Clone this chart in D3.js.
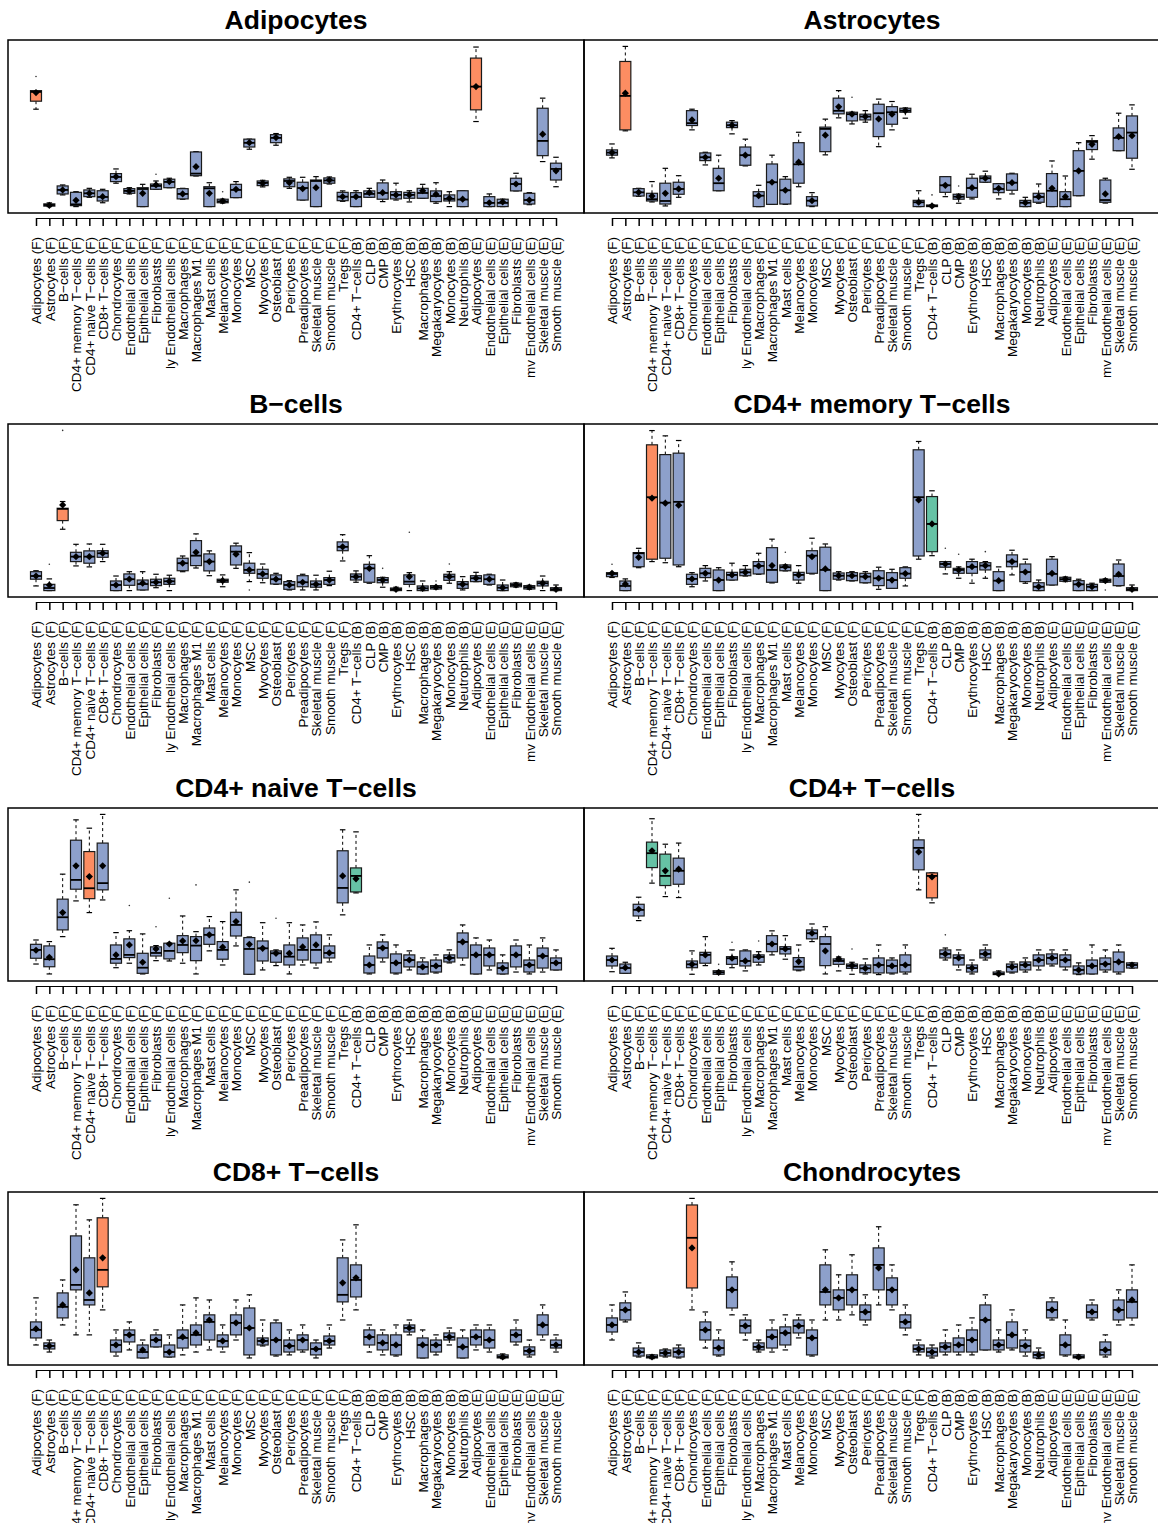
<!DOCTYPE html>
<html>
<head>
<meta charset="utf-8">
<script src="https://cdn.jsdelivr.net/npm/d3@7"></script>
<style>
  body { margin: 0; background: #fff; }
  text { font-family: "Liberation Sans", Arial, Helvetica, sans-serif; }
</style>
</head>
<body>
<svg id="chart"></svg>
<script>
// x categories (same for every panel)
const categories = [
  "Adipocytes (F)", "Astrocytes (F)", "B\u2212cells (F)", "CD4+ memory T\u2212cells (F)",
  "CD4+ naive T\u2212cells (F)", "CD8+ T\u2212cells (F)", "Chondrocytes (F)", "Endothelial cells (F)",
  "Epithelial cells (F)", "Fibroblasts (F)", "ly Endothelial cells (F)", "Macrophages (F)",
  "Macrophages M1 (F)", "Mast cells (F)", "Melanocytes (F)", "Monocytes (F)", "MSC (F)",
  "Myocytes (F)", "Osteoblast (F)", "Pericytes (F)", "Preadipocytes (F)", "Skeletal muscle (F)",
  "Smooth muscle (F)", "Tregs (F)", "CD4+ T\u2212cells (B)", "CLP (B)", "CMP (B)",
  "Erythrocytes (B)", "HSC (B)", "Macrophages (B)", "Megakaryocytes (B)", "Monocytes (B)",
  "Neutrophils (B)", "Adipocytes (E)", "Endothelial cells (E)", "Epithelial cells (E)",
  "Fibroblasts (E)", "mv Endothelial cells (E)", "Skeletal muscle (E)", "Smooth muscle (E)"
];

const panelTitles = ["Adipocytes", "Astrocytes", "B\u2212cells", "CD4+ memory T\u2212cells",
  "CD4+ naive T\u2212cells", "CD4+ T\u2212cells", "CD8+ T\u2212cells", "Chondrocytes"];

// each row: [lower whisker, q1, median, q3, upper whisker, mean] (relative score)
const adipocytes = [
  [60.8,65.8,71.6,72.4,72.4,71.2],[0,0.3,1,1.7,2.3,0.8],[7.3,7.9,10.4,12.9,13.5,10.4],[0,0.6,1.4,8.9,9.3,3.9],
  [5.8,6.2,8.3,10.4,11.4,8.3],[2.4,3.5,6,9.9,10.8,6.2],[14.6,15.6,18.5,20.6,23.5,18.7],[7.9,8.3,9.8,11.2,11.8,9.8],
  [0,0,11,11.8,13.9,8.3],[10.8,10.8,12.9,14.1,16,13.5],[11.8,11.8,15.4,17.1,17.7,15.6],[4.6,4.8,7.9,11.2,11.4,7.9],
  [19.1,19.3,20.6,34.1,34.3,24.9],[0,0,11.4,12.4,14.9,8.3],[2.2,2.4,3.2,4.6,4.6,3.5],[5.6,5.6,10.4,13.9,15.6,10.8],
  [35.8,37.2,39.8,42.1,42.1,39.9],[12.3,13.1,14.8,16,16.4,14.6],[38.3,39.9,42.9,44.9,45.6,43.1],[11.4,12.4,16,17.3,18.3,14.9],
  [4.1,4.1,11.6,15.2,18.3,11.2],[0,0,16,16.6,18.7,11.8],[14.1,14.6,16.3,17.9,18.5,16.6],[3.3,3.7,6.2,8.9,9.8,6.2],
  [0,0,6,8.7,9.9,6.2],[5.8,5.8,7.9,9.8,11.4,8.7],[3.1,4.6,8.5,14.8,16.6,8.7],[4.1,4.8,7.3,9.3,14.6,7.3],
  [2.9,5.2,7.3,8.9,9.9,7.3],[5.2,5.2,8.5,11.4,13.9,9.9],[2.1,3.1,6.6,9.8,14.9,7.7],[0,3.5,4.8,7.3,9.3,5.2],
  [0,0,4.4,9.9,9.9,4.6],[53.1,60.4,74.9,92.7,99.6,74.9],[0,0,2.3,6.2,7.9,2.4],[0,0,2.3,4.6,4.6,2.9],
  [9.8,9.8,14.1,17.7,20.8,14.1],[1.2,1.6,4.1,8.3,8.7,4.1],[28.1,31.8,41,61.4,67.7,45.2],[12.4,16.6,23.5,27.1,30.8,22.3]
];
const astrocytes = [
  [30.4,32.1,33.7,35.4,39.1,33.7],[47.3,47.9,69.1,90.6,100,70.8],[6.4,6.6,8.9,11.2,11.4,8.9],[2.9,3.5,4.6,8.3,15.6,6.6],
  [0.4,1.6,3.5,14.6,23.9,8.3],[5.8,7.7,11,15.2,19.3,11],[47.9,50.6,52.1,59.9,60.8,54.1],[26,28.7,30.8,33.5,33.9,30.8],
  [9.9,9.9,14.6,23.9,32.1,17.7],[45.4,49.3,50.8,52.7,53.7,50.8],[25.4,25.8,32.1,37.2,42.1,32.1],[0,0,6.8,9.3,13.3,6.8],
  [1.4,1.4,15.2,26.6,32.1,15.2],[1.4,1.6,10.2,17.1,18.7,10.2],[12.4,14.6,26.4,39.9,46.4,27.7],[0,0.4,3.7,6.2,8.7,3.7],
  [32.3,34.3,48.5,49.6,54.6,44.6],[55.4,57.9,59.8,67.7,72.4,62.3],[51.6,53.5,57.7,58.9,58.9,57.7],[52.7,54.1,56.2,57.7,59.9,56.2],
  [37.4,43.7,58.3,63.9,67.1,54.7],[47.9,51.4,58.9,62.4,65.6,57.7],[55.2,58.9,59.9,61.4,61.6,59.9],[0,0,2.7,3.9,9.9,2.7],
  [0,0,0.4,1,1,0.4],[6.2,8.9,13.3,18.7,18.7,13.3],[2.1,4.6,6.2,7.7,7.7,6.2],[4.8,5.8,11.6,17.7,20.2,11.8],
  [15.2,15.2,17.7,19.1,22.1,17.7],[4.8,8.7,11,14.3,14.3,11.4],[7.9,10.2,14.9,20.4,20.8,14.9],[0,0,2.4,3.9,5.8,2.4],
  [2.1,2.7,6,8.3,14.1,6.2],[0,0,9.9,20.6,28.5,11.4],[0,0,4.6,9.3,19.1,6.2],[6.8,6.8,22.3,34.9,39.9,22.3],
  [29.6,35.6,40.4,41.2,44.3,38.9],[2.2,2.7,4.1,16.6,17.7,7.9],[34.9,34.9,42.9,49.1,58.3,43.7],[23.3,30.2,46.2,56.6,63.5,44.3]
];
const bCells = [
  [2.9,7.1,9.1,11.8,12.4,9.1],[0,0,1.6,3.9,7.3,3.5],[38.3,43.7,51,51.4,55.6,53.5],[15.4,18.1,21.2,23.9,28.9,21.2],
  [14.8,17.1,21.2,24.8,29.1,21.2],[18.1,20.8,23.3,24.9,28.9,23.3],[0,0,3.5,6,9.1,3.5],[0,3.3,7.1,10.4,11.8,7.1],
  [0.4,0.4,4.1,6.6,11.8,4.6],[1.8,3.1,5.2,7.1,10.2,5.2],[0,3.9,5.8,7.7,9.6,5.8],[11.8,12.4,17.1,20.2,21.6,17.1],
  [14.1,15.6,21.8,31.2,35.4,23.9],[9.3,12.3,18.1,22.9,24.8,18.1],[2.4,5.2,6.2,7.1,9.8,6.2],[13.9,16,24.3,27.9,29.6,22.7],
  [5.6,10.8,12.9,17.1,23.7,12.9],[4.9,7.7,10.4,13.3,16.6,10.4],[3.9,4.1,7.1,9.8,10.8,7.1],[0.4,0.8,3.5,5.6,6.2,3.5],
  [0.4,2.4,5.2,9.3,10.2,5.2],[0.4,2.1,3.9,6,9.6,3.9],[3.1,3.9,6.6,8.1,12.1,6.6],[18.5,24.9,27.3,30.4,34.9,27.3],
  [5.2,6.6,8.7,10.4,12.3,8.7],[4.6,5.2,13.9,16.4,21.8,13.9],[2.1,4.9,6.6,8.1,8.3,6.6],[0,0,0.8,1.6,2.1,0.8],
  [0,3.9,5.6,9.8,11.2,8.7],[0,0,1.4,2.9,6,1.4],[1,1,2.1,3.1,3.1,2.1],[4.6,6.4,8.7,10.2,11.8,8.7],
  [0.4,1.4,3.9,5.6,8.7,3.9],[5.6,5.6,7.7,9.3,11.4,7.7],[3.5,3.9,7.1,9.8,10.2,7.1],[0,0,1.8,3.5,6.6,1.8],
  [2.2,2.4,3.5,4.6,4.8,3.5],[0.8,1,2.1,3.1,3.3,2.1],[0,2.9,4.6,5.8,9.1,4.6],[0,0,0.8,1.8,3.5,0.8]
];
const cd4Memory = [
  [8.2,8.7,10.4,11.2,11.2,10.8],[0,0,2.9,6,7.3,4.1],[14.3,14.9,23.3,23.7,26.4,20.8],[18.1,19.6,58.3,91,99.9,57.7],
  [17.4,20.2,54.9,84.9,96.6,54.6],[14.9,16,55.4,85.8,93.7,53.3],[2.4,3.9,7.3,10.2,11.2,7.3],[6,8.1,10.8,13.9,15.6,10.8],
  [0,0,6.6,12.9,14.3,6.6],[6.6,6.6,9.8,11.4,17.1,9.8],[9.1,9.3,11.4,13.3,15.6,11.4],[10.2,10.4,15.4,18.1,23.3,15.4],
  [4.8,5.2,12.9,26.8,32.1,15.6],[12.3,12.4,14.6,16,16,14.9],[4.6,6.6,9.8,11.4,15.6,9.8],[10.4,10.8,21.8,24.9,32.7,21.2],
  [0,0,12.9,27.1,29.1,13.5],[6.6,7.1,9.3,11,11.8,9.3],[6,6.2,9.3,11.2,11.8,9.3],[4.8,4.9,8.7,10.8,11.8,8.7],
  [0.8,3.1,7.7,12.4,14.6,7.7],[1.4,1.4,6.6,11.2,13.3,6.6],[2.9,7.7,10.6,14.3,14.8,10.6],[19.6,21.6,58.3,87.9,93.1,56.6],
  [21.8,24.3,41.6,58.7,62.3,41.6],[10.4,14.6,16.6,18.1,18.1,16.6],[7.7,10.8,12.9,13.9,14.8,12.9],[4.6,10.8,14.8,18.1,19.6,14.9],
  [7.7,12.9,15.6,17.4,18.1,15.6],[0,0,6.2,11.8,14.8,6.2],[9.8,14.9,18.1,22.3,25.2,18.1],[4.6,5.6,11.6,16.6,19.6,11.6],
  [0,0,2.4,4.9,6.6,2.4],[3.5,3.5,10.4,19.6,21.2,10.8],[5.6,5.8,7.1,8.3,8.5,7.1],[0,0,3.9,6.2,7.1,3.9],
  [0,0,2.4,3.9,4.6,2.4],[5.2,5.2,6.2,7.1,7.3,6.2],[2.9,3.1,9.1,16.6,19.1,10.2],[0,0,0.8,1.8,3.5,0.8]
];
const cd4Naive = [
  [6.6,10.2,15.4,18.9,21.6,15.2],[0.4,4.9,9.6,17.9,20.6,10.8],[23.7,27.9,35.8,47.1,62.7,38.7],[46,53.3,59.1,83.9,96.6,67.9],
  [38.7,47.4,53.9,76.8,91.4,61.2],[46.6,52.9,57.1,82.1,100,67.9],[4.3,7.1,9.8,18.5,26.2,12.3],[7.1,10.6,12.3,22.3,27.4,18.5],
  [0.4,0.8,4.3,13.3,25.4,7.7],[8.7,11.6,13.5,17.3,18.1,16],[8.5,9.8,14.8,19.6,19.6,19.1],[7.1,13.7,18.5,24.3,36.6,21],
  [0.4,8.7,18.1,23.7,26.8,21.2],[14.8,18.9,24.8,29.1,36.2,24.8],[6,9.6,15.4,20.6,33.1,17.1],[17.9,24.1,31,38.9,52.9,33.1],
  [0.2,0.2,16,23.1,23.5,18.9],[2.9,8.5,16.4,21,32.4,16.4],[5.6,7.7,13.3,14.8,15.4,13.3],[0.4,6,11.2,18.5,32.4,13.3],
  [6,9.1,15.4,22.9,31,17.3],[4.1,7.3,15.4,24.8,32.9,18.5],[7.9,10.4,13.5,17.9,24.8,13.5],[37.3,44.8,54.1,77.3,90.4,61.6],
  [51,51.6,61.6,66.6,89.1,59.8],[0.4,1,6,11.6,18.5,6],[7.9,10.4,16.6,20.4,24.8,16.6],[0.4,1,7.3,12.9,18.5,7.3],
  [2.9,4.8,9.1,12.3,14.8,9.1],[0.4,0.4,4.8,7.9,10.4,4.8],[1,1.6,5.4,9.1,12.3,5.4],[7.3,7.9,10.4,12.3,15.4,10.4],
  [6,10.4,20.4,26,31,20.4],[0.4,0.4,12.3,18.5,22.9,12.3],[2.9,5.4,12.3,16.6,21.6,12.3],[0.4,0.4,4.1,7.3,12.3,4.1],
  [1.6,4.8,12.3,17.9,21.6,12.3],[0.4,1.6,6,9.1,18.5,6],[1.6,4.1,11.6,16.6,22.9,11.6],[2.9,2.9,7.3,10.4,15.4,7.3]
];
const cd4T = [
  [1.8,5.4,9.1,11.6,16.4,9.1],[0.8,0.8,4.1,6.6,7.7,4.3],[33.7,36.6,40.4,43.9,48.3,40.8],[57.1,66.8,75.8,82.7,97.3,77.3],
  [48.7,55.6,61.6,75.2,81.4,64.8],[48.1,56.4,64.8,72.7,82.1,65.8],[0.2,4.3,6.4,8.5,14.8,6.4],[5.6,7.1,12.3,13.9,23.7,12.3],
  [0.2,0.2,1.4,2.4,2.4,1.4],[4.3,6.4,10.2,11.2,15.4,10.2],[2.3,5.4,8.5,14.8,15.4,8.5],[6,7.7,11,12.3,14.3,11.2],
  [12.3,14.3,19.1,24.3,27.3,19.1],[9.6,12.9,16,17.4,24.3,16],[2.4,2.9,4.9,10.6,18.5,8.1],[20.6,22.3,25.8,27.9,31.6,25.8],
  [0.4,5.6,19.1,23.7,29.9,14.8],[2.3,6.4,8.5,9.8,11,9.8],[0.2,3.9,5.4,6.6,7.7,5.6],[0.4,1.2,3.9,6,9.8,3.9],
  [0,1,6,10.4,18.5,6],[0.4,1,5.4,9.1,10.4,5.4],[0.4,1.6,6,12.3,18.5,6],[52.9,65.4,79.1,84.1,100,76.6],
  [44.8,47.9,61.6,63.5,63.5,61],[9.1,10.4,12.9,15.4,16.6,12.9],[2.9,6,10.4,12.3,15.4,10.4],[0.4,1.6,4.1,6,9.1,4.1],
  [9.1,10.4,12.9,15.4,18.5,12.9],[0,0,0.4,1.6,2.3,0.4],[1,1.6,4.8,6.6,7.9,4.8],[1.6,2.9,6,7.9,10.4,6],
  [2.9,5.4,9.1,12.3,15.4,9.1],[5.4,6.6,10.4,12.9,15.4,10.4],[2.9,4.8,9.1,12.3,15.4,9.1],[0,0.4,2.9,5.4,7.3,2.9],
  [0.4,0.4,5.4,9.1,18.5,5.4],[1.6,2.9,6.6,10.4,15.4,6.6],[0.4,1.6,7.9,14.1,18.5,7.9],[4.1,4.1,6,7.3,7.3,6]
];
const cd8T = [
  [8.5,12.9,17.9,22.9,37.9,18.5],[4.1,6,7.9,9.8,11.6,7.9],[21,25.4,32.3,41,49.1,33.5],[14.8,42.9,46,76.6,96,55.4],
  [14.8,33.5,36.6,62.9,86.6,41],[30.4,44.8,55.4,87.9,100,62.9],[1.6,4.1,8.5,11.6,17.9,8.5],[5.4,10.4,14.8,17.9,22.9,14.8],
  [0.4,0.4,4.1,8.5,11.6,5.4],[7.3,7.3,11.6,14.8,17.9,11.6],[1,1,4.1,8.5,14.8,4.1],[2.3,6.6,12.9,17.9,33.5,13.5],
  [4.1,8.5,14.8,21,37.9,16],[5.4,11.6,22.9,27.3,36.6,24.1],[4.1,7.3,11,14.8,21,11],[11.6,14.8,22.3,27.3,36.6,22.3],
  [0.4,2.3,19.1,31.6,39.8,19.1],[7.9,8.5,11,12.9,24.1,11],[1.6,2.3,11.6,22.3,24.1,11.6],[2.3,4.1,7.9,11.6,17.9,7.9],
  [4.1,5.4,11.6,14.8,21,11.6],[0.4,2.3,6,9.8,11.6,6],[6.6,8.5,11,14.1,21,11],[24.1,35.4,39.8,62.9,74.1,47.3],
  [30.4,38.5,49.1,58.5,83.5,50.4],[4.1,8.5,13.5,17.9,21,13.5],[2.3,5.4,9.8,14.8,17.9,9.8],[1.6,2.3,8.5,14.8,21,8.5],
  [14.8,16.6,19.1,21,24.1,19.1],[0.4,0.4,8.5,12.9,17.9,8.5],[2.3,4.1,8.5,11.6,14.8,8.5],[8.5,11.6,13.5,16,19.1,13.5],
  [0.4,0.4,7.3,12.9,17.9,7.3],[5.4,8.5,13.5,17.9,21,13.5],[4.1,6.6,11.6,17.9,21,11.6],[0,0.4,1,2.3,2.9,1],
  [8.5,10.4,14.8,17.9,24.1,14.8],[1,2.3,4.8,7.3,11.6,4.8],[11.6,14.8,21,27.3,33.5,21],[4.1,6.6,8.5,11.6,14.8,8.5]
];
const chondrocytes = [
  [11.6,16.6,21,25.4,33.5,21],[22.9,24.1,30.4,34.8,41.6,30.4],[1,1.6,4.1,6.6,9.8,4.1],[0,0.4,1,2.3,2.3,1],
  [1,1.6,3.5,5.4,6,3.5],[0.4,1,4.1,6.6,8.5,4.1],[30.4,44.1,75.4,95.9,100,69.1],[6.6,11.6,17.9,22.9,29.1,17.9],
  [1.6,2.3,6.6,11.6,17.9,6.6],[27.3,31.6,42.9,51,60.4,42.9],[11.6,16,20.4,24.1,27.3,20.4],[4.1,5.4,7.3,9.8,11.6,7.3],
  [4.1,6.6,13.5,17.9,24.1,13.5],[5.4,8.5,16,19.8,27.3,16],[12.9,16,20.4,24.1,27.3,20.4],[1.6,2.3,12.9,17.9,24.1,12.9],
  [24.1,33.5,41.6,58.5,67.9,42.9],[24.1,30.4,37.9,42.9,52.3,37.9],[27.3,33.5,42.9,52.3,64.8,42.9],[21,24.1,29.1,33.5,39.8,29.1],
  [33.5,42.9,58.5,69.1,82.3,56.6],[30.4,33.5,42.9,50.4,58.5,42.9],[14.8,19.1,22.9,27.3,33.5,22.9],[2.3,4.1,6,8.5,11.6,6],
  [0.4,1.6,4.1,6.6,8.5,4.1],[2.3,4.1,7.3,9.8,17.9,7.3],[2.3,4.1,8.5,12.9,21,8.5],[2.3,4.1,11.6,17.9,25.4,11.6],
  [5.4,5.4,24.1,33.5,39.8,24.1],[4.1,5.4,8.5,11.6,17.9,8.5],[5.4,6.6,14.8,22.9,30.4,14.8],[1.6,4.1,7.9,11.6,17.9,7.9],
  [0,0.4,2.3,4.1,6.6,2.3],[24.1,25.4,30.4,35.4,37.9,30.4],[1.6,2.3,8.5,14.8,24.1,8.5],[0,0.4,1,2.3,2.3,1],
  [24.1,25.4,29.1,33.5,36.6,29.1],[1,2.3,5.4,10.4,14.8,5.4],[21,24.1,30.4,36.6,42.9,30.4],[21,25.4,35.4,42.9,58.5,36.6]
];

// outlying points: [category index, value]
const adipocytesOut = [[0,81.2],[9,20.2],[14,9.3]];
const astrocytesOut = [[18,68.3],[24,7.3],[26,12.9]];
const bCellsOut = [[1,16.4],[2,100],[16,0.4],[26,13.9],[28,36.4],[30,6],[31,16.6]];
const cd4MemoryOut = [[0,16.4],[13,23.9],[25,26.4],[26,22.7],[28,24.3],[37,0.4]];
const cd4NaiveOut = [[7,43.1],[9,29.9],[10,47.7],[12,56],[16,57.7],[18,35.2]];
const cd4TOut = [[8,6.4],[9,20.2],[11,21],[18,16],[25,24.8]];
const cd8TOut = [];
const chondrocytesOut = [];

// highlighted categories per panel
const orangeIdx = [[0,33],[1],[2],[3],[4],[24],[5],[6]];
const greenIdx = [[],[],[],[24],[24],[3,4],[],[]];

const panelStats = [adipocytes, astrocytes, bCells, cd4Memory, cd4Naive, cd4T, cd8T, chondrocytes];
const panelOut = [adipocytesOut, astrocytesOut, bCellsOut, cd4MemoryOut, cd4NaiveOut, cd4TOut, cd8TOut, chondrocytesOut];

const W = 1158, H = 1523;
const panelW = 576, panelH = 173;
const colX = [8, 584];
const rowY = [40, 424, 808, 1192];
const blue = "#8DA0CB", orange = "#FC8D62", green = "#66C2A5";
const boxW = 11;

const svg = d3.select("#chart").attr("width", W).attr("height", H);

const x = d3.scalePoint().domain(categories).range([28, 548]);
const y = d3.scaleLinear().domain([-4, 104]).range([panelH, 0]);

panelStats.forEach(function(stats, k) {
  const g = svg.append("g")
    .attr("transform", "translate(" + colX[k % 2] + "," + rowY[Math.floor(k / 2)] + ")");

  g.append("text")
    .attr("x", panelW / 2).attr("y", -11.5)
    .attr("text-anchor", "middle")
    .style("font-size", "26.5px").style("font-weight", "bold")
    .text(panelTitles[k]);

  // axis with rotated labels
  const ax = g.append("g")
    .attr("transform", "translate(0," + (panelH + 5) + ")")
    .call(d3.axisBottom(x).tickSize(8).tickSizeOuter(0));
  ax.select(".domain").attr("stroke", "#000").attr("stroke-width", 1.2);
  ax.selectAll(".tick line").attr("stroke", "#000").attr("stroke-width", 1.5);
  ax.selectAll(".tick text")
    .attr("transform", "rotate(-90)")
    .attr("x", -19).attr("y", 0).attr("dy", "0.36em")
    .style("text-anchor", "end")
    .style("font-size", "13.5px")
    .attr("fill", "#000");

  const colorOf = function(i) {
    if (orangeIdx[k].includes(i)) return orange;
    if (greenIdx[k].includes(i)) return green;
    return blue;
  };

  const b = g.selectAll(".box").data(stats).enter().append("g")
    .attr("class", "box")
    .attr("transform", function(d, i) { return "translate(" + x(categories[i]) + ",0)"; });

  // whiskers
  b.append("line").attr("y1", d => y(d[3])).attr("y2", d => y(d[4]))
    .attr("stroke", "#000").attr("stroke-width", 1).attr("stroke-dasharray", "3,3");
  b.append("line").attr("y1", d => y(d[1])).attr("y2", d => y(d[0]))
    .attr("stroke", "#000").attr("stroke-width", 1).attr("stroke-dasharray", "3,3");
  b.append("line").attr("x1", -boxW / 4).attr("x2", boxW / 4)
    .attr("y1", d => y(d[4])).attr("y2", d => y(d[4]))
    .attr("stroke", "#000").attr("stroke-width", 1.2);
  b.append("line").attr("x1", -boxW / 4).attr("x2", boxW / 4)
    .attr("y1", d => y(d[0])).attr("y2", d => y(d[0]))
    .attr("stroke", "#000").attr("stroke-width", 1.2);

  b.append("rect")
    .attr("x", -boxW / 2).attr("width", boxW)
    .attr("y", d => y(d[3]))
    .attr("height", d => Math.max(1, y(d[1]) - y(d[3])))
    .attr("fill", (d, i) => colorOf(i))
    .attr("stroke", "#1a1a1a").attr("stroke-width", 1.2);

  b.append("line").attr("x1", -boxW / 2).attr("x2", boxW / 2)
    .attr("y1", d => y(d[2])).attr("y2", d => y(d[2]))
    .attr("stroke", "#000").attr("stroke-width", 1.8);

  b.append("path")
    .attr("d", d3.symbol(d3.symbolSquare, 26))
    .attr("transform", d => "translate(0," + y(d[5]) + ") rotate(45)")
    .attr("fill", "#000");

  g.selectAll(".out").data(panelOut[k]).enter().append("circle")
    .attr("cx", d => x(categories[d[0]])).attr("cy", d => y(d[1]))
    .attr("r", 0.8).attr("fill", "#333");

  // frame
  g.append("rect")
    .attr("width", panelW).attr("height", panelH)
    .attr("fill", "none").attr("stroke", "#000").attr("stroke-width", 1.5);
});
</script>
</body>
</html>
